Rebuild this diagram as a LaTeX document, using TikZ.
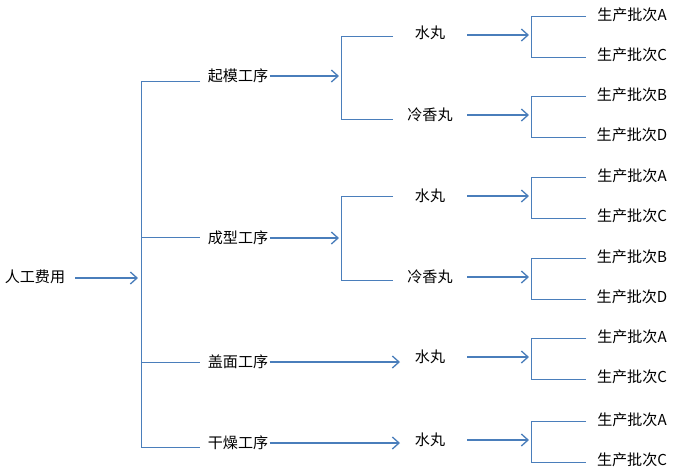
\documentclass[tikz,border=0pt]{standalone}
\usepackage{fontspec}
\setmainfont{Noto Sans CJK SC}
\usetikzlibrary{arrows.meta}
\definecolor{lineblue}{HTML}{4A7EBB}
\tikzset{
  px/.style={x=0.75pt,y=-0.75pt},
  lbl/.style={font=\fontsize{11.3}{13}\selectfont,inner sep=1pt},
  link/.style={draw=lineblue,line width=0.6pt},
  flow/.style={draw=lineblue,line width=1.4pt,-{Straight Barb[length=5pt,width=9pt,line width=1pt]}}
}
\begin{document}
\begin{tikzpicture}[px]
        \useasboundingbox (0,0) rectangle (676,469);

        % Root
        \node[lbl] (root) at (35,277) {人工费用};
        \coordinate (rb) at (138,278);
        \draw[flow] (75,278) -- (rb);
        \draw[link] (200,81) -- (141,81) -- (141,447) -- (200,447);
        \draw[link] (141,237) -- (200,237);
        \draw[link] (141,362) -- (200,362);

        % Processes
        \node[lbl] (qm) at (238,76) {起模工序};
        \node[lbl] (cx) at (238,238) {成型工序};
        \node[lbl] (gm) at (238,362) {盖面工序};
        \node[lbl] (gz) at (238,443) {干燥工序};

        % Pill types
        \node[lbl] (m1) at (430,33) {水丸};
        \node[lbl] (m2) at (430,115) {冷香丸};
        \node[lbl] (m3) at (430,196) {水丸};
        \node[lbl] (m4) at (430,277) {冷香丸};
        \node[lbl] (m5) at (430,357) {水丸};
        \node[lbl] (m6) at (430,440) {水丸};

        \coordinate (b1) at (339,76);
        \coordinate (b2) at (339,238);
        \coordinate (b3) at (400,362);
        \coordinate (b4) at (400,443);
        \draw[flow] (qm.east) -- (b1);
        \draw[flow] (cx.east) -- (b2);
        \draw[flow] (gm.east) -- (b3);
        \draw[flow] (gz.east) -- (b4);
        \draw[link] (393,36) -- (341,36) -- (341,119) -- (393,119);
        \draw[link] (393,196) -- (341,196) -- (341,280) -- (393,280);

        % Batches
        \foreach \y/\a/\b [count=\i] in {35/A/C,115/B/D,196/A/C,277/B/D,357/A/C,440/A/C}{
          \coordinate (t\i) at (529,\y);
          \draw[flow] (467,\y) -- (t\i);
          \draw[link] (586,\y-19) -- (531,\y-19) -- (531,\y+22) -- (586,\y+22);
          \node[lbl] (p\i a) at (632,\y-20) {生产批次\a};
          \node[lbl] (p\i b) at (632,\y+20) {生产批次\b};
        }
    \end{tikzpicture}
\end{document}
